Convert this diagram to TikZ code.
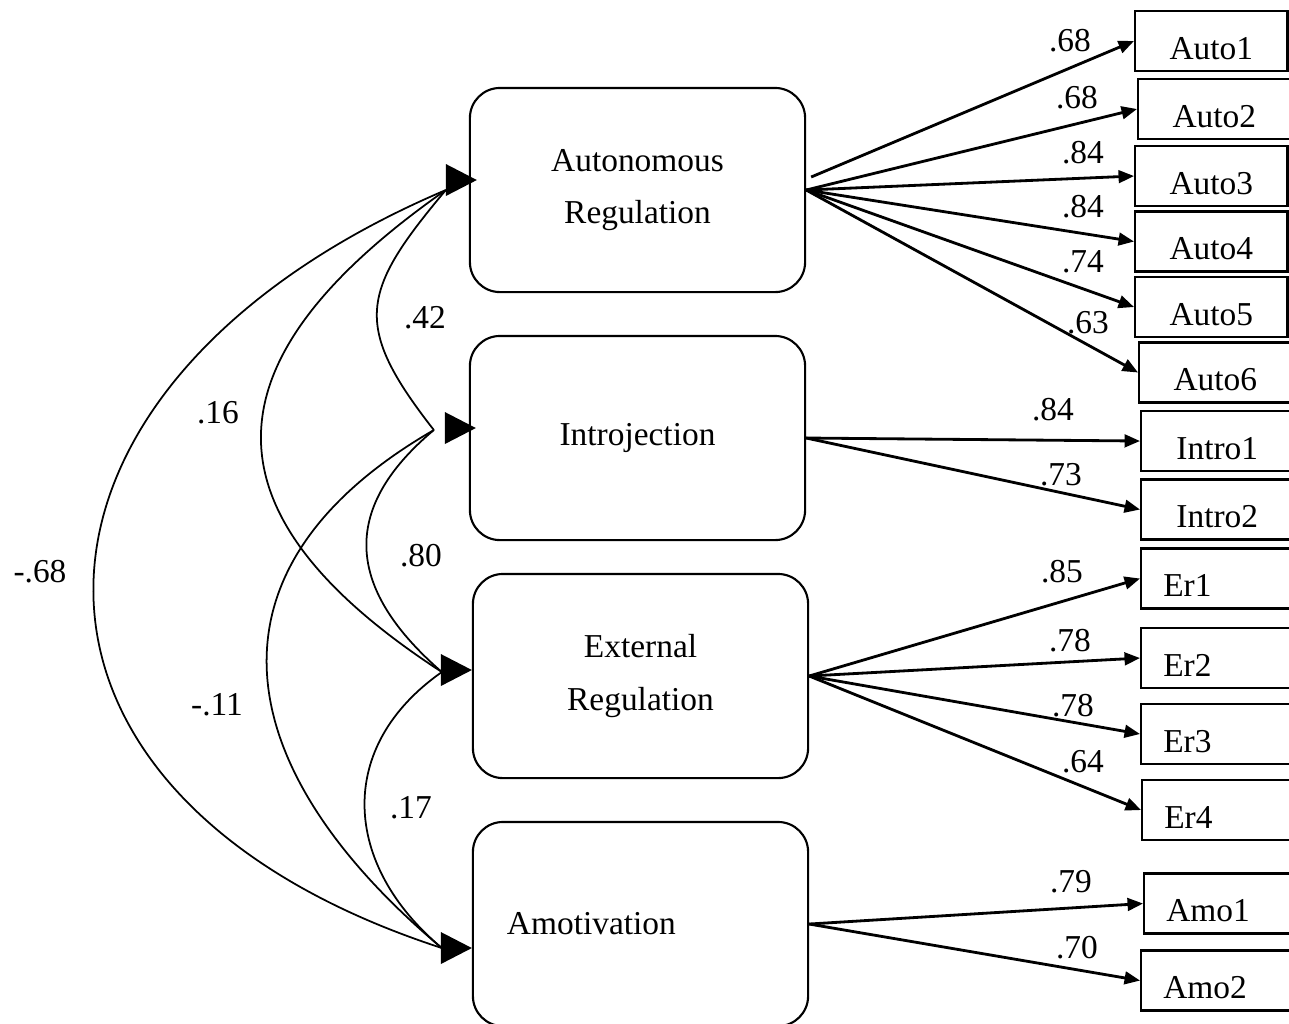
\documentclass[tikz,border=0pt]{standalone}
\usepackage{fontspec}
\setmainfont{Liberation Serif}
\usetikzlibrary{arrows.meta,calc}
\tikzset{
  latent/.style = {draw, line width=0.6pt, rounded corners=0.3cm, minimum width=3.35cm, minimum height=2.04cm, align=center, font=\fontsize{9.5}{15}\selectfont},
  obs/.style = {draw, rectangle, line width=0.7pt, inner xsep=0.22cm, inner ysep=0pt, text width=1.08cm, text height=0.48cm, text depth=0.12cm, font=\fontsize{9.5}{11}\selectfont},
  obs_c/.style = {obs, align=center},
  obs_l/.style = {obs, align=left},
  load/.style = {-{Triangle[length=4.4pt,width=3.6pt]}, line width=0.8pt},
  cov/.style = {line width=0.5pt},
  coef/.style = {font=\fontsize{9.5}{11}\selectfont, inner sep=0pt}
}

\begin{document}
\begin{tikzpicture}[x=0.01cm, y=-0.01cm]
	\useasboundingbox (0,0) rectangle (1289,1023);
	% factors
	\node [latent] (auto)  at (637.5,190) {Autonomous\\Regulation};
	\node [latent] (intro) at (637.5,438) {Introjection};
	\node [latent] (ext)   at (640.5,676) {External\\Regulation};
	\node [latent, align=left, text width=2.67cm, inner xsep=0.34cm] (amo) at (640.5,924) {Amotivation};
	% items
	\foreach \nm/\lab/\px/\py in {auto1/Auto1/1134/41, auto2/Auto2/1137/109, auto3/Auto3/1134/176,
		auto4/Auto4/1134/241.5, auto5/Auto5/1134/307, auto6/Auto6/1138/372.5,
		intro1/Intro1/1140/441, intro2/Intro2/1140/509.5}
		\node [obs_c, anchor=west] (\nm) at (\px,\py) {\lab};
	\foreach \nm/\lab/\px/\py in {er1/Er1/1140/578.5, er2/Er2/1140/658, er3/Er3/1140/734,
		er4/Er4/1141/810, amo1/Amo1/1143/903.5, amo2/Amo2/1140/980.5}
		\node [obs_l, anchor=west] (\nm) at (\px,\py) {\lab};
	% loadings
	\draw [load] ($(auto.east)+(5,-13)$) -- (auto1.west);
	\node [coef] (cauto1) at (1070,41) {.68};
	\foreach \src/\dst/\val/\lx/\ly in {auto/auto2/.68/1077/98, auto/auto3/.84/1083/153,
		auto/auto4/.84/1083/207, auto/auto5/.74/1083/262, auto/auto6/.63/1088/323,
		intro/intro1/.84/1053/410, intro/intro2/.73/1061/475,
		ext/er1/.85/1062/572, ext/er2/.78/1070/641, ext/er3/.78/1073/706, ext/er4/.64/1083/762,
		amo/amo1/.79/1071/882, amo/amo2/.70/1077/948}
	{
		\draw [load] (\src.east) -- (\dst.west);
		\node [coef] (c\dst) at (\lx,\ly) {\val};
	}
	% covariances
	\coordinate (autoH)  at ($(auto.west)+(8,-10)$);
	\coordinate (autoT)  at ($(auto.west)+(-23,0)$);
	\coordinate (introH) at ($(intro.west)+(7,-10)$);
	\coordinate (introT) at ($(intro.west)+(-35,-8)$);
	\coordinate (extH)   at ($(ext.west)+(0,-6)$);
	\coordinate (extT)   at ($(ext.west)+(-30,-4)$);
	\coordinate (amoH)   at ($(amo.west)+(0,24)$);
	\coordinate (amoT)   at ($(amo.west)+(-30,24)$);
	\foreach \n in {auto,intro,ext,amo}
		\fill (\n H) -- ++(-31,-16) -- ++(0,32) -- cycle;
	\draw [cov] (autoT) to[out=230, in=128, distance=1.33cm] (introT);
	\draw [cov] (autoT) to[out=215, in=147, distance=2.94cm] (extT);
	\draw [cov] (autoT) to[out=203, in=162, distance=4.99cm] (amoT);
	\draw [cov] (introT) to[out=220, in=139, distance=1.25cm] (extT);
	\draw [cov] (introT) to[out=210, in=140, distance=2.79cm] (amoT);
	\draw [cov] (extT) to[out=215, in=140, distance=1.30cm] (amoT);
	\node [coef] (c42) at (425,318) {.42};
	\node [coef] (c16) at (218,413) {.16};
	\node [coef] (c68) at (40,572) {-.68};
	\node [coef] (c80) at (421,556) {.80};
	\node [coef] (c11) at (217,705) {-.11};
	\node [coef] (c17) at (411,808) {.17};
\end{tikzpicture}
\end{document}
